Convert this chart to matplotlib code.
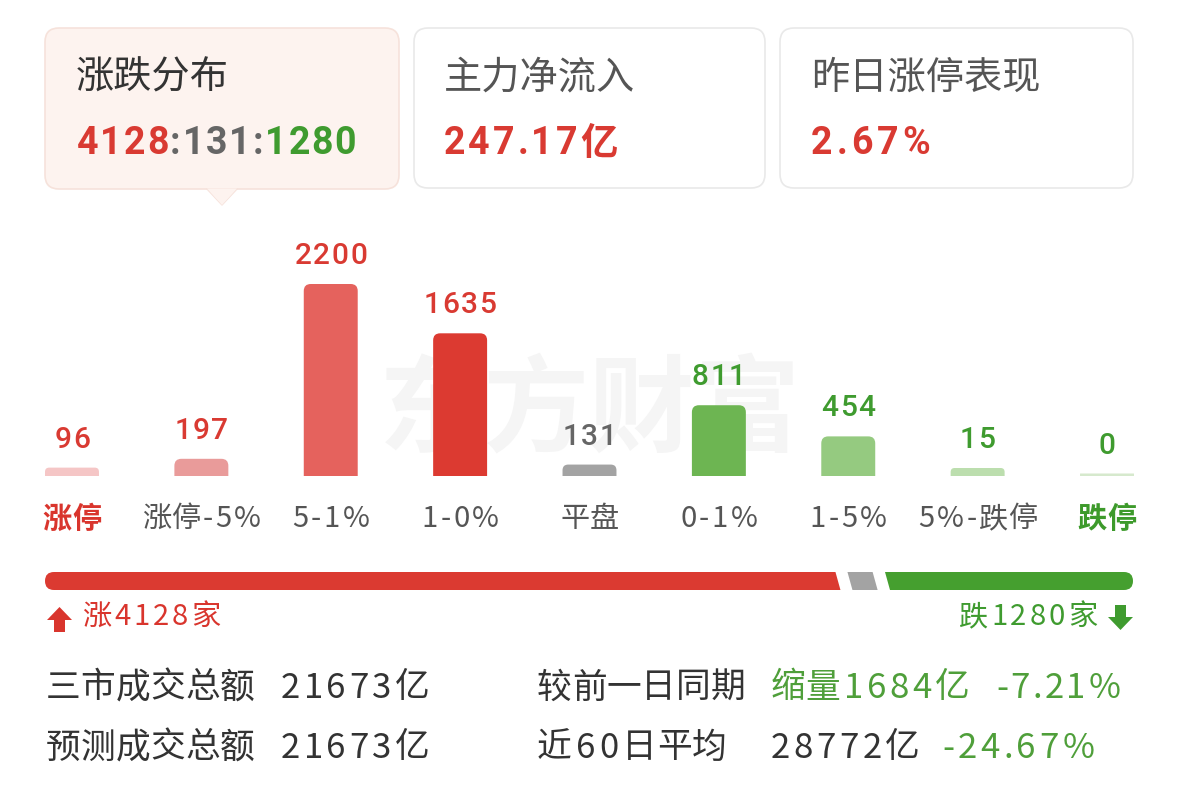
import matplotlib
matplotlib.use("Agg")
import matplotlib.pyplot as plt
from matplotlib.patches import FancyBboxPatch, Polygon, PathPatch
from matplotlib.path import Path

plt.rcParams['font.family'] = ['Noto Sans CJK SC', 'DejaVu Sans']

# ---------------- data ----------------
categories = ['涨停', '涨停-5%', '5-1%', '1-0%', '平盘', '0-1%', '1-5%', '5%-跌停', '跌停']
counts = [96, 197, 2200, 1635, 131, 811, 454, 15, 0]
bar_colors = ['#f5c6c6', '#e99b9a', '#e5625d', '#dc3a31', '#a3a3a3',
              '#6db552', '#95ca80', '#bcdeae', '#d6e9cd']
value_colors = ['#d93a32'] * 4 + ['#666666'] + ['#3f9b2f'] * 4
cat_colors = ['#d9352d'] + ['#555555'] * 7 + ['#3d9a2b']

up_total, flat_total, down_total = 4128, 131, 1280
card_titles = ['涨跌分布', '主力净流入', '昨日涨停表现']
main_inflow = '247.17亿'
yesterday_limit_up = '2.67%'
turnover_total = '21673亿'
turnover_forecast = '21673亿'
shrink_amount = '1684亿'
shrink_pct = '-7.21%'
avg60 = '28772亿'
avg60_pct = '-24.67%'

RED = '#d93a32'
GREEN = '#3f9b2f'
LGREEN = '#4f9f3a'
GRAY = '#666666'
DARK = '#333333'

W, H = 1179, 785
fig = plt.figure(figsize=(W / 100, H / 100), dpi=100)
bg = fig.add_axes([0, 0, 1, 1])
bg.set_xlim(0, W)
bg.set_ylim(H, 0)
bg.axis('off')
renderer = fig.canvas.get_renderer()


def is_cjk(ch):
    return ord(ch) >= 0x2E80


def _w(s, **kw):
    t = bg.text(0, 0, s, **kw)
    w = t.get_window_extent(renderer).width
    t.remove()
    return w


def track(x, y, s, fs, color, tracking=0.0, ha='left', weight='normal',
          family=None, zorder=3):
    """Draw a string with extra letter spacing around non-CJK characters."""
    kw = dict(fontsize=fs, fontweight=weight)
    if family is not None:
        kw['family'] = family
    rights = []
    extra = 0.0
    for i in range(len(s)):
        if i > 0 and not (is_cjk(s[i - 1]) and is_cjk(s[i])):
            extra += tracking
        rights.append(_w(s[:i + 1], **kw) + extra)
    total = rights[-1]
    x0 = {'left': x, 'center': x - total / 2, 'right': x - total}[ha]
    for ch, r in zip(s, rights):
        bg.text(x0 + r, y, ch, ha='right', va='center', color=color, zorder=zorder, **kw)
    return x0 + total


# ---------------- cards ----------------
cards = [(45, 28, 354, 161, '#fdf3ef', '#f6e2db'),
         (414, 28, 351, 160, 'white', '#e9e9e9'),
         (780, 28, 353, 160, 'white', '#e9e9e9')]
for (x, y, w, h, fc, ec) in cards:
    bg.add_patch(FancyBboxPatch((x, y), w, h, boxstyle='round,pad=0,rounding_size=14',
                                fc=fc, ec=ec, lw=1.2, zorder=1))
bg.add_patch(Polygon([[207, 188.5], [237, 188.5], [222, 205]], closed=True,
                     fc='#fdf3ef', ec='none', zorder=2))
bg.plot([207, 222, 237], [189, 205, 189], color='#f6e2db', lw=1.0, zorder=1.5)

bg.text(76, 78, card_titles[0], fontsize=27.5, color=DARK, va='center', zorder=3)
bg.text(444, 78, card_titles[1], fontsize=27.5, color='#555555', va='center', zorder=3)
bg.text(811, 78, card_titles[2], fontsize=27.5, color='#555555', va='center', zorder=3)

num_font = ['Roboto', 'Noto Sans CJK SC']
NFS = 27
cx = 77
for s, c in [(str(up_total), RED), (':', GRAY), (str(flat_total), GRAY),
             (':', GRAY), (str(down_total), GREEN)]:
    cx = track(cx, 144, s, NFS, c, tracking=1.8, weight='bold', family=num_font) + 1.8
track(444, 144, main_inflow, NFS, RED, tracking=3.0, weight='bold', family=num_font)
track(811, 144, yesterday_limit_up, NFS, RED, tracking=4.0, weight='bold', family=num_font)

# ---------------- watermark ----------------
bg.text(590, 412, '东方财富', fontsize=76, fontweight='bold', color='#f5f5f5',
        ha='center', va='center', zorder=0)

# ---------------- bar chart ----------------
base_px = 476
scale_px = 192.0
left_px, right_px = 7.3, 1171.7
ax = fig.add_axes([left_px / W, (H - base_px) / H, (right_px - left_px) / W, scale_px / H])
ax.set_xlim(-0.5, len(categories) - 0.5)
ax.set_ylim(0, max(counts))
ax.axis('off')
ax.patch.set_alpha(0)

ypp = max(counts) / scale_px
xpp = len(categories) / (right_px - left_px)
MIN_H = 8 * ypp
ZERO_H = 2.5 * ypp
bw = 0.417


def top_round_path(x0, w, h, rx, ry):
    verts = [(x0, 0), (x0, h - ry), (x0, h), (x0 + rx, h), (x0 + w - rx, h),
             (x0 + w, h), (x0 + w, h - ry), (x0 + w, 0), (x0, 0)]
    codes = [Path.MOVETO, Path.LINETO, Path.CURVE3, Path.CURVE3, Path.LINETO,
             Path.CURVE3, Path.CURVE3, Path.LINETO, Path.CLOSEPOLY]
    return Path(verts, codes)


disp_heights = []
for i, (v, c) in enumerate(zip(counts, bar_colors)):
    h = max(v, MIN_H) if v > 0 else ZERO_H
    disp_heights.append(h)
    r_px = min(7.0, h / ypp / 2) if v > 0 else 0
    p = top_round_path(i - bw / 2, bw, h, r_px * xpp, r_px * ypp)
    ax.add_patch(PathPatch(p, fc=c, ec='none', zorder=2))

# value labels and category labels placed from the bar axes' data transform
for i, (v, h) in enumerate(zip(counts, disp_heights)):
    xd, yd = ax.transData.transform((i, h))
    px, py = xd, H - yd
    track(px, py - 28, str(v), 21.5, value_colors[i], tracking=1.6, ha='center',
          weight='medium', family=['Roboto', 'Noto Sans CJK SC'])

for i, (cat, col) in enumerate(zip(categories, cat_colors)):
    xd, _ = ax.transData.transform((i, 0))
    bold = cat in ('涨停', '跌停')
    track(xd, 519, cat, 21, col, tracking=2.6, ha='center',
          weight='bold' if bold else 'normal')

# ---------------- progress bar ----------------
pb_x0, pb_x1, pb_y0, pb_y1 = 45, 1133, 572, 590
total = up_total + flat_total + down_total
gap_px = 12
slant_px = 2.5
pax = fig.add_axes([pb_x0 / W, (H - pb_y1) / H, (pb_x1 - pb_x0) / W, (pb_y1 - pb_y0) / H])
pax.axis('off')
pax.patch.set_alpha(0)
upp = total / ((pb_x1 - pb_x0) - 2 * gap_px)
span = total + 2 * gap_px * upp
pax.set_xlim(0, span)
pax.set_ylim(0, 1)
clip = FancyBboxPatch((pb_x0, pb_y0), pb_x1 - pb_x0, pb_y1 - pb_y0,
                      boxstyle='round,pad=0,rounding_size=9', transform=bg.transData,
                      fc='none', ec='none')
bg.add_patch(clip)
g = gap_px * upp
d = slant_px * upp
b1 = up_total
b2 = up_total + g + flat_total
segs = [
    ([(0, 0), (b1 + d, 0), (b1 - d, 1), (0, 1)], '#db3a31'),
    ([(b1 + g + d, 0), (b2 + d, 0), (b2 - d, 1), (b1 + g - d, 1)], '#a3a3a3'),
    ([(b2 + g + d, 0), (span, 0), (span, 1), (b2 + g - d, 1)], '#459f2f'),
]
for pts, c in segs:
    poly = Polygon(pts, closed=True, fc=c, ec='none')
    pax.add_patch(poly)
    poly.set_clip_path(clip)

# arrows + counts
bg.add_patch(Polygon([[47, 620], [59.5, 607], [72, 620], [65, 620], [65, 632],
                      [54, 632], [54, 620]], closed=True, fc='#d9352d', ec='none'))
track(82, 617, '涨' + str(up_total) + '家', 21, '#d9352d', tracking=3.0)
bg.add_patch(Polygon([[1108, 617], [1120.5, 630], [1133, 617], [1126, 617], [1126, 605],
                      [1115, 605], [1115, 617]], closed=True, fc=GREEN, ec='none'))
track(1097, 617, '跌' + str(down_total) + '家', 21, GREEN, tracking=3.0, ha='right')

# ---------------- bottom stats ----------------
FS = 25
TR = 3.5
track(46, 688, '三市成交总额', FS, DARK)
track(281, 688, turnover_total, FS, DARK, tracking=TR, weight='medium')
track(537, 688, '较前一日同期', FS, DARK)
track(771, 688, '缩量' + shrink_amount, FS, LGREEN, tracking=TR, weight='medium')
track(996, 688, shrink_pct, FS, LGREEN, tracking=2.5, weight='medium')

track(46, 748, '预测成交总额', FS, DARK)
track(281, 748, turnover_forecast, FS, DARK, tracking=TR, weight='medium')
track(537, 748, '近60日平均', FS, DARK, tracking=4.0)
track(771, 748, avg60, FS, DARK, tracking=TR, weight='medium')
track(942, 748, avg60_pct, FS, LGREEN, tracking=TR, weight='medium')

fig.savefig('out.png', dpi=100)
